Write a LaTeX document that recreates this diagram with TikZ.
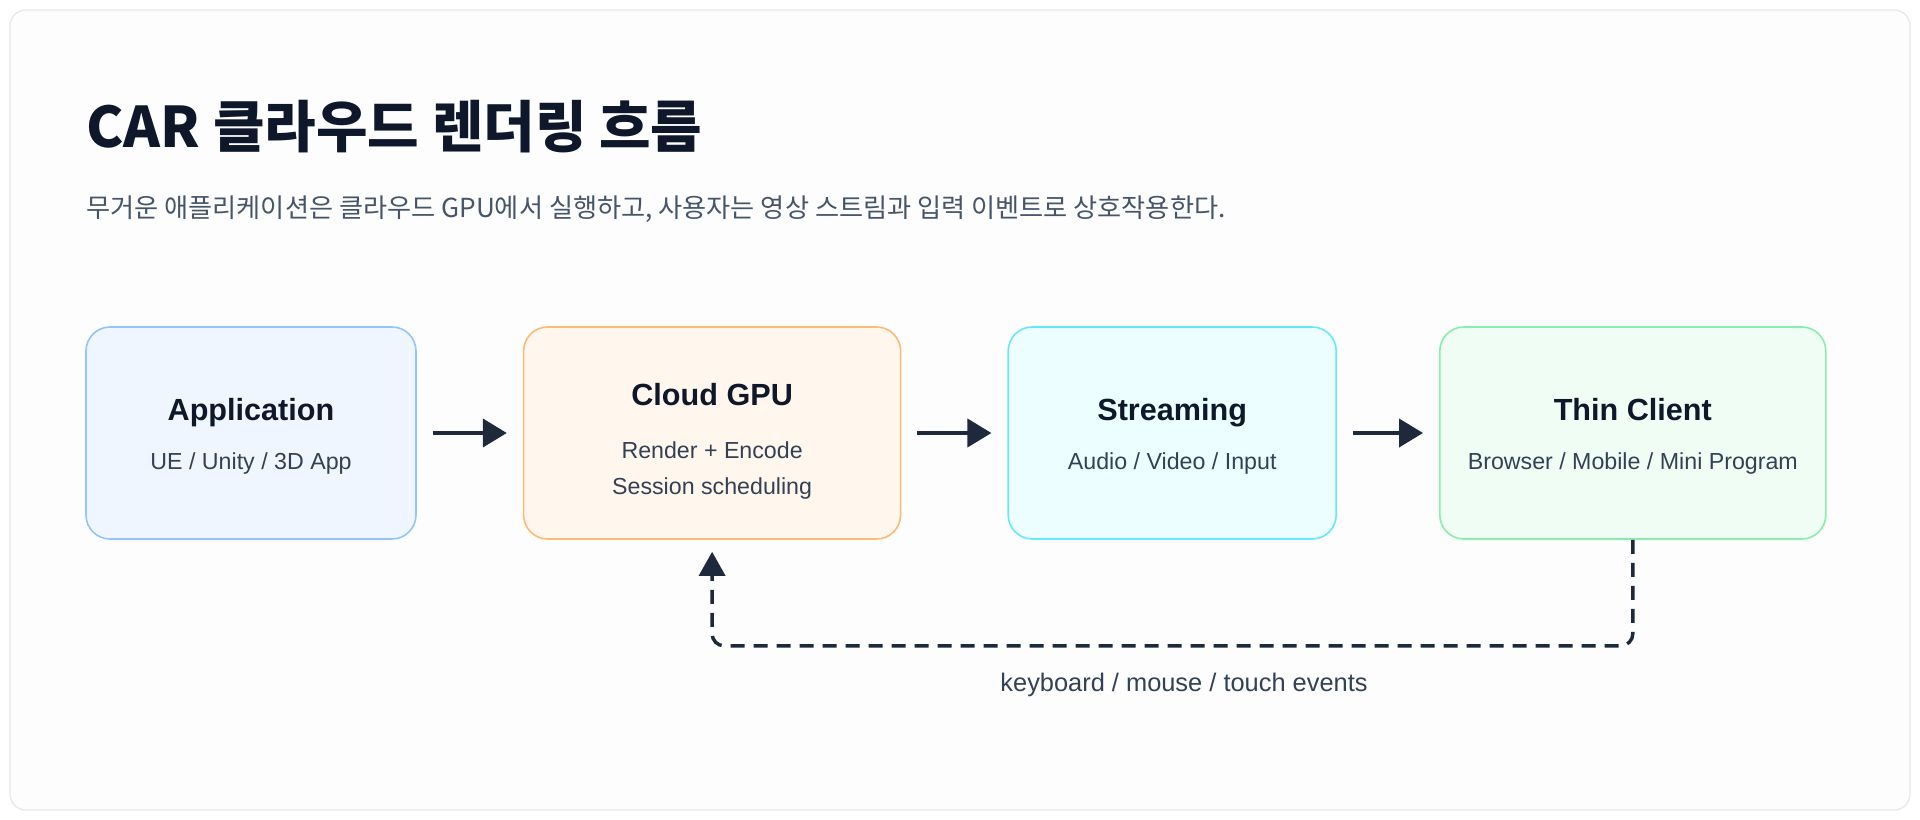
\documentclass[tikz,border=0pt]{standalone}
\usepackage{fontspec}
\setmainfont{Liberation Sans}
\newfontfamily\krfont{Noto Sans CJK KR}
\usepackage{xcolor}
\usetikzlibrary{positioning,arrows.meta}

\definecolor{ink}{HTML}{0F172A}
\definecolor{subtx}{HTML}{334155}
\definecolor{leadtx}{HTML}{475569}
\definecolor{arrowc}{HTML}{1E293B}
\definecolor{cardbg}{HTML}{FDFDFE}
\definecolor{cardln}{HTML}{E5E7EB}
\definecolor{appfill}{HTML}{EFF6FF}
\definecolor{appline}{HTML}{93C5FD}
\definecolor{gpufill}{HTML}{FFF7ED}
\definecolor{gpuline}{HTML}{FDBA74}
\definecolor{strfill}{HTML}{ECFEFF}
\definecolor{strline}{HTML}{67E8F9}
\definecolor{clifill}{HTML}{F0FDF4}
\definecolor{cliline}{HTML}{86EFAC}

\newcommand\boxhead[1]{{\color{ink}\bfseries\fontsize{15.3}{18}\selectfont\rule{0pt}{14pt}#1}}

\begin{document}
\begin{tikzpicture}[x=0.5pt, y=-0.5pt,
  blk/.style={draw, line width=0.8pt, rounded corners=12pt,
              minimum height=106pt, align=center, inner sep=0pt,
              text=subtx, font=\fontsize{11.6}{18}\selectfont},
  arr/.style={-{Triangle[length=12pt,width=14pt]}, line width=2pt,
              arrowc, shorten <=8pt, shorten >=8pt},
  fb/.style={-{Triangle[length=12pt,width=13pt]}, line width=1.7pt,
             arrowc, dash pattern=on 7pt off 4.5pt, rounded corners=6pt},
  node distance=53pt
]

%% page and card
\fill[white] (0,0) rectangle (1920,819);
\useasboundingbox (0,0) rectangle (1920,819);
\draw[cardln, fill=cardbg, line width=0.6pt, rounded corners=8pt]
  (10,10) rectangle (1910,810);

%% heading
\node[anchor=west, inner sep=0pt, text=ink,
      font=\krfont\bfseries\fontsize{28}{32}\selectfont] (title)
     at (86,127) {CAR 클라우드 렌더링 흐름};
\node[anchor=west, inner sep=0pt, text=leadtx,
      font=\krfont\fontsize{13.1}{15}\selectfont] (lead)
     at (86,209) {무거운 애플리케이션은 클라우드 GPU에서 실행하고, 사용자는 영상 스트림과 입력 이벤트로 상호작용한다.};

%% pipeline
\node[blk, fill=appfill, draw=appline, minimum width=165pt] (app)
     at (251,433) {\boxhead{Application}\\[6.5pt]UE / Unity / 3D App};

\node[blk, fill=gpufill, draw=gpuline, minimum width=188.5pt, right=of app] (gpu)
     {\boxhead{\rule{0pt}{19pt}Cloud GPU}\\[8.5pt]Render + Encode\\Session scheduling};

\node[blk, fill=strfill, draw=strline, minimum width=164pt, right=of gpu] (stream)
     {\boxhead{Streaming}\\[6.5pt]Audio / Video / Input};

\node[blk, fill=clifill, draw=cliline, minimum width=193pt, right=51pt of stream] (client)
     {\boxhead{Thin Client}\\[6.5pt]Browser / Mobile / Mini Program};

\draw[arr] (app.east)    -- (gpu.west);
\draw[arr] (gpu.east)    -- (stream.west);
\draw[arr] (stream.east) -- (client.west);

%% input events back to the GPU
\draw[fb, shorten >=6pt] (client.south) -- ++(0,106) coordinate (fbturn)
  -| (gpu.south);
\node[text=subtx, font=\fontsize{12.7}{15}\selectfont] (evt)
     at (1184,685) {keyboard / mouse / touch events};

\end{tikzpicture}
\end{document}
